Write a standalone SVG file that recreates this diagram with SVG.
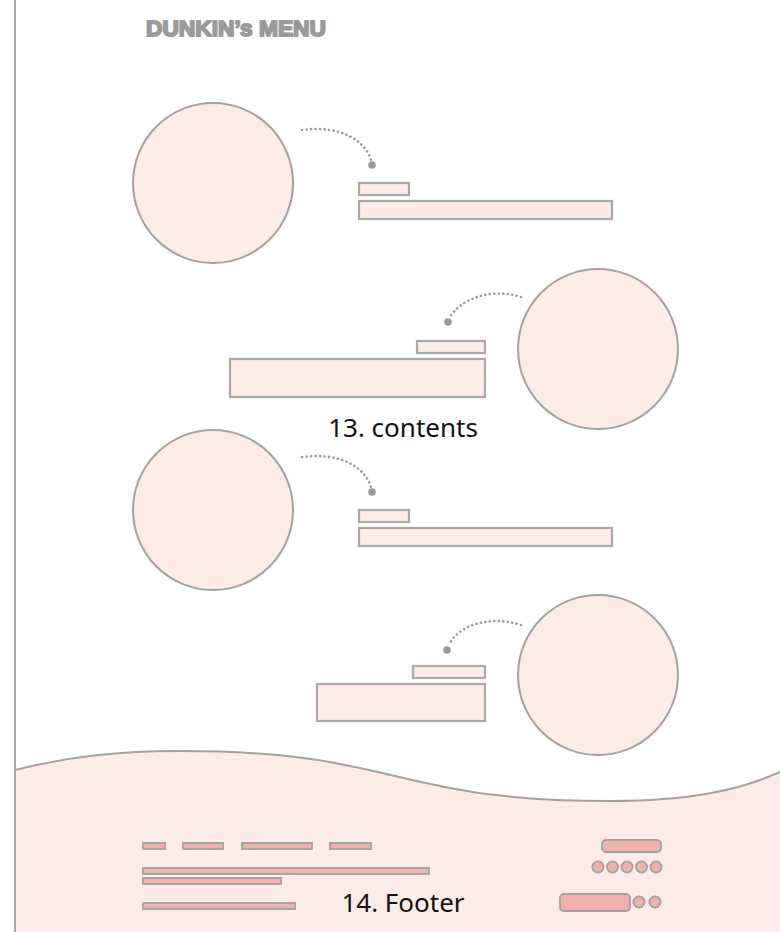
<svg xmlns="http://www.w3.org/2000/svg" width="780" height="932" viewBox="0 0 780 932">
<style>
.pink{fill:#fdebe8;stroke:#a6a1a1;stroke-width:2}
.box{fill:#fdebe8;stroke:#a8a8a8;stroke-width:2.2}
.dots{fill:none;stroke:#9a9a9a;stroke-width:2.6;stroke-linecap:round;stroke-dasharray:0.1 4.4}
.dot{fill:#9a9a9a}
.sal{fill:#f0b2ac;stroke:#a0a0a0;stroke-width:1.8}
.label{font-family:"Noto Sans","DejaVu Sans",sans-serif;font-size:26px;fill:#111;text-anchor:middle}
</style>
<rect width="780" height="932" fill="#ffffff"/>
<g id="footer-bg">
<path d="M15,770 C70,756 120,751 180,751 C400,751 390,801 610,801 C690,801 740,790 780,772 L780,932 L15,932 Z" fill="#fdebe8"/>
<path d="M15,770 C70,756 120,751 180,751 C400,751 390,801 610,801 C690,801 740,790 780,772" fill="none" stroke="#a6a1a1" stroke-width="2"/>
</g>
<line x1="15" y1="0" x2="15" y2="932" stroke="#a6a6a6" stroke-width="2"/>
<g id="title">
<text x="146" y="36" textLength="180" lengthAdjust="spacingAndGlyphs" font-family="'Liberation Sans',Arial,sans-serif" font-weight="bold" font-size="22" fill="#9a9a9a" stroke="#9a9a9a" stroke-width="1.8" stroke-linejoin="round">DUNKIN’s MENU</text>
</g>
<g id="item1">
<circle class="pink" cx="213" cy="183" r="80"/>
<rect class="box" x="359" y="183" width="50" height="12"/>
<rect class="box" x="359" y="201" width="253" height="18"/>
</g>
<g id="item2">
<circle class="pink" cx="598" cy="349" r="80"/>
<rect class="box" x="417" y="341" width="68" height="12"/>
<rect class="box" x="230" y="359" width="255" height="38"/>
</g>
<g id="item3">
<circle class="pink" cx="213" cy="510" r="80"/>
<rect class="box" x="359" y="510" width="50" height="12"/>
<rect class="box" x="359" y="528" width="253" height="18"/>
</g>
<g id="item4">
<circle class="pink" cx="598" cy="675" r="80"/>
<rect class="box" x="413" y="666" width="72" height="12"/>
<rect class="box" x="317" y="684" width="168" height="37"/>
</g>
<g id="connectors">
<path class="dots" d="M302,130 C340,125 365,140 371,160"/>
<circle class="dot" cx="372" cy="165" r="3.8"/>
<path class="dots" d="M521,297 C490,287 460,300 450,317"/>
<circle class="dot" cx="448" cy="322" r="3.8"/>
<path class="dots" d="M302,457 C340,452 365,467 371,487"/>
<circle class="dot" cx="372" cy="492" r="3.8"/>
<path class="dots" d="M521,625 C490,615 460,625 450,643"/>
<circle class="dot" cx="447" cy="650" r="3.8"/>
</g>
<g id="label-contents">
<text class="label" x="403" y="437">13. contents</text>
</g>
<g id="footer">
<rect class="sal" x="143" y="843" width="22" height="6"/>
<rect class="sal" x="183" y="843" width="40" height="6"/>
<rect class="sal" x="242" y="843" width="70" height="6"/>
<rect class="sal" x="330" y="843" width="41" height="6"/>
<rect class="sal" x="143" y="868" width="286" height="6"/>
<rect class="sal" x="143" y="878" width="138" height="6"/>
<rect class="sal" x="143" y="903" width="152" height="6"/>
<rect class="sal" x="602" y="840" width="59" height="12" rx="4"/>
<circle class="sal" cx="598" cy="867" r="5.6"/>
<circle class="sal" cx="612.5" cy="867" r="5.6"/>
<circle class="sal" cx="627" cy="867" r="5.6"/>
<circle class="sal" cx="641.5" cy="867" r="5.6"/>
<circle class="sal" cx="656" cy="867" r="5.6"/>
<rect class="sal" x="560" y="894" width="70" height="17" rx="4"/>
<circle class="sal" cx="639" cy="902" r="5.6"/>
<circle class="sal" cx="655" cy="902" r="5.6"/>
<text class="label" x="403" y="912">14. Footer</text>
</g>
</svg>
